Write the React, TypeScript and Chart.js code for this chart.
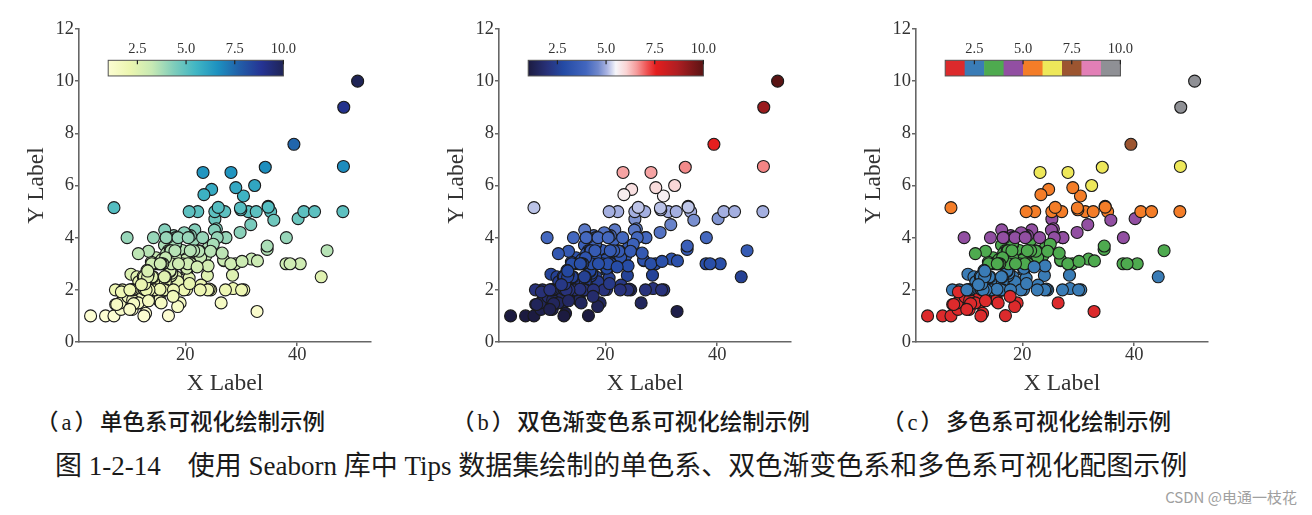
import React, { useEffect, useRef } from "react";
import { Chart, registerables } from "chart.js";
Chart.register(...registerables);

// ---- Data (Seaborn "tips": total_bill vs tip) ----
const totalBill = [
  16.99, 10.34, 21.01, 23.68, 24.59, 25.29, 8.77, 26.88, 15.04, 14.78,
  10.27, 35.26, 15.42, 18.43, 14.83, 21.58, 10.33, 16.29, 16.97, 20.65,
  17.92, 20.29, 15.77, 39.42, 19.82, 17.81, 13.37, 12.69, 21.7, 19.65,
  9.55, 18.35, 15.06, 20.69, 17.78, 24.06, 16.31, 16.93, 18.69, 31.27,
  16.04, 17.46, 13.94, 9.68, 30.4, 18.29, 22.23, 32.4, 28.55, 18.04,
  12.54, 10.29, 34.81, 9.94, 25.56, 19.49, 38.01, 26.41, 11.24, 48.27,
  20.29, 13.81, 11.02, 18.29, 17.59, 20.08, 16.45, 3.07, 20.23, 15.01,
  12.02, 17.07, 26.86, 25.28, 14.73, 10.51, 17.92, 27.2, 22.76, 17.29,
  19.44, 16.66, 10.07, 32.68, 15.98, 34.83, 13.03, 18.28, 24.71, 21.16,
  28.97, 22.49, 5.75, 16.32, 22.75, 40.17, 27.28, 12.03, 21.01, 12.46,
  11.35, 15.38, 44.3, 22.42, 20.92, 15.36, 20.49, 25.21, 18.24, 14.31,
  14.0, 7.25, 38.07, 23.95, 25.71, 17.31, 29.93, 10.65, 12.43, 24.08,
  11.69, 13.42, 14.26, 15.95, 12.48, 29.8, 8.52, 14.52, 11.38, 22.82,
  19.08, 20.27, 11.17, 12.26, 18.26, 8.51, 10.33, 14.15, 16.0, 13.16,
  17.47, 34.3, 41.19, 27.05, 16.43, 8.35, 18.64, 11.87, 9.78, 7.51,
  14.07, 13.13, 17.26, 24.55, 19.77, 29.85, 48.17, 25.0, 13.39, 16.49,
  21.5, 12.66, 16.21, 13.81, 17.51, 24.52, 20.76, 31.71, 10.59, 10.63,
  50.81, 15.81, 7.25, 31.85, 16.82, 32.9, 17.89, 14.48, 9.6, 34.63,
  34.65, 23.33, 45.35, 23.17, 40.55, 20.69, 20.9, 30.46, 18.15, 23.1,
  15.69, 19.81, 28.44, 15.48, 16.58, 7.56, 10.34, 43.11, 13.0, 13.51,
  18.71, 12.74, 13.0, 16.4, 20.53, 16.47, 26.59, 38.73, 24.27, 12.76,
  30.06, 25.89, 48.33, 13.27, 28.17, 12.9, 28.15, 11.59, 7.74, 30.14,
  12.16, 13.42, 8.58, 15.98, 13.42, 16.27, 10.09, 20.45, 13.28, 22.12,
  24.01, 15.69, 11.61, 10.77, 15.53, 10.07, 12.6, 32.83, 35.83, 29.03,
  27.18, 22.67, 17.82, 18.78,
];
const tip = [
  1.01, 1.66, 3.5, 3.31, 3.61, 4.71, 2.0, 3.12, 1.96, 3.23,
  1.71, 5.0, 1.57, 3.0, 3.02, 3.92, 1.67, 3.71, 3.5, 3.35,
  4.08, 2.75, 2.23, 7.58, 3.18, 2.34, 2.0, 2.0, 4.3, 3.0,
  1.45, 2.5, 3.0, 2.45, 3.27, 3.6, 2.0, 3.07, 2.31, 5.0,
  2.24, 2.54, 3.06, 1.32, 5.6, 3.0, 5.0, 6.0, 2.05, 3.0,
  2.5, 2.6, 5.2, 1.56, 4.34, 3.51, 3.0, 1.5, 1.76, 6.73,
  3.21, 2.0, 1.98, 3.76, 2.64, 3.15, 2.47, 1.0, 2.01, 2.09,
  1.97, 3.0, 3.14, 5.0, 2.2, 1.25, 3.08, 4.0, 3.0, 2.71,
  3.0, 3.4, 1.83, 5.0, 2.03, 5.17, 2.0, 4.0, 5.85, 3.0,
  3.0, 3.5, 1.0, 4.3, 3.25, 4.73, 4.0, 1.5, 3.0, 1.5,
  2.5, 3.0, 2.5, 3.48, 4.08, 1.64, 4.06, 4.29, 3.76, 4.0,
  3.0, 1.0, 4.0, 2.55, 4.0, 3.5, 5.07, 1.5, 1.8, 2.92,
  2.31, 1.68, 2.5, 2.0, 2.52, 4.2, 1.48, 2.0, 2.0, 2.18,
  1.5, 2.83, 1.5, 2.0, 3.25, 1.25, 2.0, 2.0, 2.0, 2.75,
  3.5, 6.7, 5.0, 5.0, 2.3, 1.5, 1.36, 1.63, 1.73, 2.0,
  2.5, 2.0, 2.74, 2.0, 2.0, 5.14, 5.0, 3.75, 2.61, 2.0,
  3.5, 2.5, 2.0, 2.0, 3.0, 3.48, 2.24, 4.5, 1.61, 2.0,
  10.0, 3.16, 5.15, 3.18, 4.0, 3.11, 2.0, 2.0, 4.0, 3.55,
  3.68, 5.65, 3.5, 6.5, 3.0, 5.0, 3.5, 2.0, 3.5, 4.0,
  1.5, 4.19, 2.56, 2.02, 4.0, 1.44, 2.0, 5.0, 2.0, 2.0,
  4.0, 2.01, 2.0, 2.5, 4.0, 3.23, 3.41, 3.0, 2.03, 2.23,
  2.0, 5.16, 9.0, 2.5, 6.5, 1.1, 3.0, 1.5, 1.44, 3.09,
  2.2, 3.48, 1.92, 3.0, 1.58, 2.5, 2.0, 3.0, 2.72, 2.88,
  2.0, 3.0, 3.39, 1.47, 3.0, 1.25, 1.0, 1.17, 4.67, 5.92,
  2.0, 2.0, 1.75, 3.0,
];
const xTicks = [20, 40];
const yTickStep = 2;
const cbarTicks = [2.5, 5.0, 7.5, 10.0];
const cbarTickLabels = ["2.5", "5.0", "7.5", "10.0"];
const colorMin = 1.0;
const colorMax = 10.0;
const xLabel = "X Label";
const yLabel = "Y Label";
const subCaptionTags = ["（a）", "（b）", "（c）"];
const subCaptionTexts = ["单色系可视化绘制示例", "双色渐变色系可视化绘制示例", "多色系可视化绘制示例"];
const figCaption =
  "图 1-2-14　使用 Seaborn 库中 Tips 数据集绘制的单色系、双色渐变色系和多色系可视化配图示例";
const watermark = "CSDN @电通一枝花";

// ---- Colour maps (styles) ----
const ylgnbu = ["#fcfdd2", "#ecf6b0", "#c7e9b4", "#7fcdbb", "#41b6c4", "#1d91c0", "#225ea8", "#253494", "#1f2456"];
const coldHot: [number, string][] = [
  [0.0, "#1c1b40"], [0.11, "#28327a"], [0.2, "#244aa4"], [0.33, "#4266be"],
  [0.4, "#7088cc"], [0.45, "#aab4e2"], [0.5, "#f6f6fa"], [0.56, "#fad4d4"],
  [0.62, "#f59a9a"], [0.68, "#ee5050"], [0.73, "#e41e1e"], [0.85, "#b01e22"], [1.0, "#5a1414"],
];
const set1 = ["#dc2a2c", "#3a7cb6", "#4eaa4f", "#924fa2", "#f47d28", "#eee85a", "#9c5530", "#e27fb6", "#8f9095"];

const SERIF = '"Liberation Serif", "Times New Roman", serif';

function hexToRgb(h: string) {
  const n = parseInt(h.slice(1), 16);
  return [(n >> 16) & 255, (n >> 8) & 255, n & 255];
}
function interpStops(stops: [number, string][], t: number) {
  t = Math.max(0, Math.min(1, t));
  for (let i = 0; i < stops.length - 1; i++) {
    const [t0, c0] = stops[i];
    const [t1, c1] = stops[i + 1];
    if (t <= t1) {
      const f = (t - t0) / (t1 - t0 || 1);
      const a = hexToRgb(c0), b = hexToRgb(c1);
      const r = a.map((v, k) => Math.round(v + (b[k] - v) * f));
      return `rgb(${r[0]},${r[1]},${r[2]})`;
    }
  }
  return stops[stops.length - 1][1];
}
const evenStops = (cols: string[]): [number, string][] => cols.map((c, i) => [i / (cols.length - 1), c]);

type CMap = { kind: "cont"; stops: [number, string][] } | { kind: "disc"; colors: string[] };
const cmaps: CMap[] = [
  { kind: "cont", stops: evenStops(ylgnbu) },
  { kind: "cont", stops: coldHot },
  { kind: "disc", colors: set1 },
];
function cmapColor(cm: CMap, v: number) {
  const t = (v - colorMin) / (colorMax - colorMin);
  if (cm.kind === "cont") return interpStops(cm.stops, t);
  const n = cm.colors.length;
  return cm.colors[Math.max(0, Math.min(n - 1, Math.floor(t * n)))];
}

const CW = 420;
const CH = 400;
const AXIS = "#666666";

function Panel({ left, cm }: { left: number; cm: CMap }) {
  const ref = useRef<HTMLCanvasElement>(null);
  useEffect(() => {
    if (!ref.current) return;
    const colors = tip.map((v) => cmapColor(cm, v));
    const cbarPlugin = {
      id: "cbar",
      afterDatasetsDraw(chart: any) {
        const { ctx, chartArea: a } = chart;
        const w = a.right - a.left;
        const h = a.bottom - a.top;
        const x0 = a.left + 0.1 * w;
        const x1 = a.left + 0.7 * w;
        const y0 = a.bottom - 0.9 * h;
        const y1 = a.bottom - 0.85 * h;
        const toX = (v: number) => x0 + ((v - colorMin) / (colorMax - colorMin)) * (x1 - x0);
        ctx.save();
        if (cm.kind === "cont") {
          const g = ctx.createLinearGradient(x0, 0, x1, 0);
          cm.stops.forEach(([t, c]) => g.addColorStop(t, c));
          ctx.fillStyle = g;
          ctx.fillRect(x0, y0, x1 - x0, y1 - y0);
        } else {
          const n = cm.colors.length;
          const sw = (x1 - x0) / n;
          cm.colors.forEach((c, i) => {
            ctx.fillStyle = c;
            ctx.fillRect(x0 + i * sw, y0, sw + 0.5, y1 - y0);
          });
        }
        ctx.strokeStyle = "#505050";
        ctx.lineWidth = 1;
        ctx.strokeRect(x0, y0, x1 - x0, y1 - y0);
        ctx.strokeStyle = "#222";
        ctx.lineWidth = 1.2;
        ctx.fillStyle = "#333";
        ctx.font = `14.5px ${SERIF}`;
        ctx.textAlign = "center";
        ctx.textBaseline = "alphabetic";
        cbarTicks.forEach((v, i) => {
          const x = toX(v);
          ctx.beginPath();
          ctx.moveTo(x, y0);
          ctx.lineTo(x, y0 + 4);
          ctx.stroke();
          ctx.fillText(cbarTickLabels[i], x, y0 - 7);
        });
        ctx.restore();
      },
    };
    const chart = new Chart(ref.current, {
      type: "scatter",
      data: {
        datasets: [
          {
            data: totalBill.map((x, i) => ({ x, y: tip[i] })),
            backgroundColor: colors,
            borderColor: "#1a1a1a",
            borderWidth: 1.1,
            pointRadius: 6,
            pointHoverRadius: 6,
            clip: false as any,
          },
        ],
      },
      options: {
        responsive: false,
        animation: false,
        devicePixelRatio: 1,
        events: [],
        layout: { padding: { top: 29, right: CW - 79 - 292, bottom: 0, left: 0 } },
        plugins: { legend: { display: false }, tooltip: { enabled: false } },
        scales: {
          x: {
            type: "linear",
            min: 1.0,
            max: 53.2,
            afterBuildTicks: (s: any) => {
              s.ticks = xTicks.map((v) => ({ value: v }));
            },
            afterFit: (s: any) => {
              s.height = CH - 342;
            },
            ticks: { color: "#333", font: { family: SERIF, size: 18.5 }, padding: -2, maxRotation: 0 },
            grid: { drawOnChartArea: false, drawTicks: true, tickLength: 4, color: AXIS, lineWidth: 1.5 },
            border: { display: true, color: AXIS, width: 1.6 },
            title: { display: true, text: xLabel, color: "#333", font: { family: SERIF, size: 23.5 }, padding: { top: 0, bottom: 2 } },
          },
          y: {
            type: "linear",
            min: 0,
            max: 12,
            afterFit: (s: any) => {
              s.width = 79;
            },
            ticks: { stepSize: yTickStep, color: "#333", font: { family: SERIF, size: 18.5 }, padding: 1 },
            grid: { drawOnChartArea: false, drawTicks: true, tickLength: 4, color: AXIS, lineWidth: 1.5 },
            border: { display: true, color: AXIS, width: 1.6 },
            title: { display: true, text: yLabel, color: "#333", font: { family: SERIF, size: 23.5 }, padding: { top: 23, bottom: 0 } },
          },
        },
      } as any,
      plugins: [cbarPlugin],
    });
    return () => chart.destroy();
  }, [cm]);
  return (
    <canvas
      ref={ref}
      width={CW}
      height={CH}
      style={{ position: "absolute", left, top: 0, width: CW, height: CH }}
    />
  );
}

const panelLefts = [0, 420, 837];
const captionLefts = [36, 452, 882];

export default function App() {
  return (
    <div
      style={{
        position: "fixed",
        left: 0,
        top: 0,
        width: 1312,
        height: 515,
        background: "#fff",
        overflow: "hidden",
      }}
    >
      {panelLefts.map((l, i) => (
        <Panel key={i} left={l} cm={cmaps[i]} />
      ))}
      {subCaptionTexts.map((t, i) => (
        <div
          key={t}
          style={{
            position: "absolute",
            left: captionLefts[i],
            top: 411,
            fontFamily: `${SERIF}, "Noto Sans CJK SC"`,
            fontSize: 22.5,
            lineHeight: "24px",
            fontWeight: 500,
            color: "#1a1a1a",
            whiteSpace: "nowrap",
          }}
        >
          <span style={{ letterSpacing: 3 }}>{subCaptionTags[i]}</span>
          {t}
        </div>
      ))}
      <div
        style={{
          position: "absolute",
          left: 55,
          top: 452,
          fontFamily: `${SERIF}, "Noto Sans CJK SC"`,
          fontSize: 27,
          lineHeight: "28px",
          color: "#1a1a1a",
          whiteSpace: "nowrap",
        }}
      >
        {figCaption}
      </div>
      <div
        style={{
          position: "absolute",
          right: 15,
          top: 488,
          fontFamily: '"Noto Sans CJK SC", "Noto Sans", sans-serif',
          fontSize: 15,
          lineHeight: "18px",
          color: "#a0a0a0",
          whiteSpace: "nowrap",
        }}
      >
        {watermark}
      </div>
    </div>
  );
}
